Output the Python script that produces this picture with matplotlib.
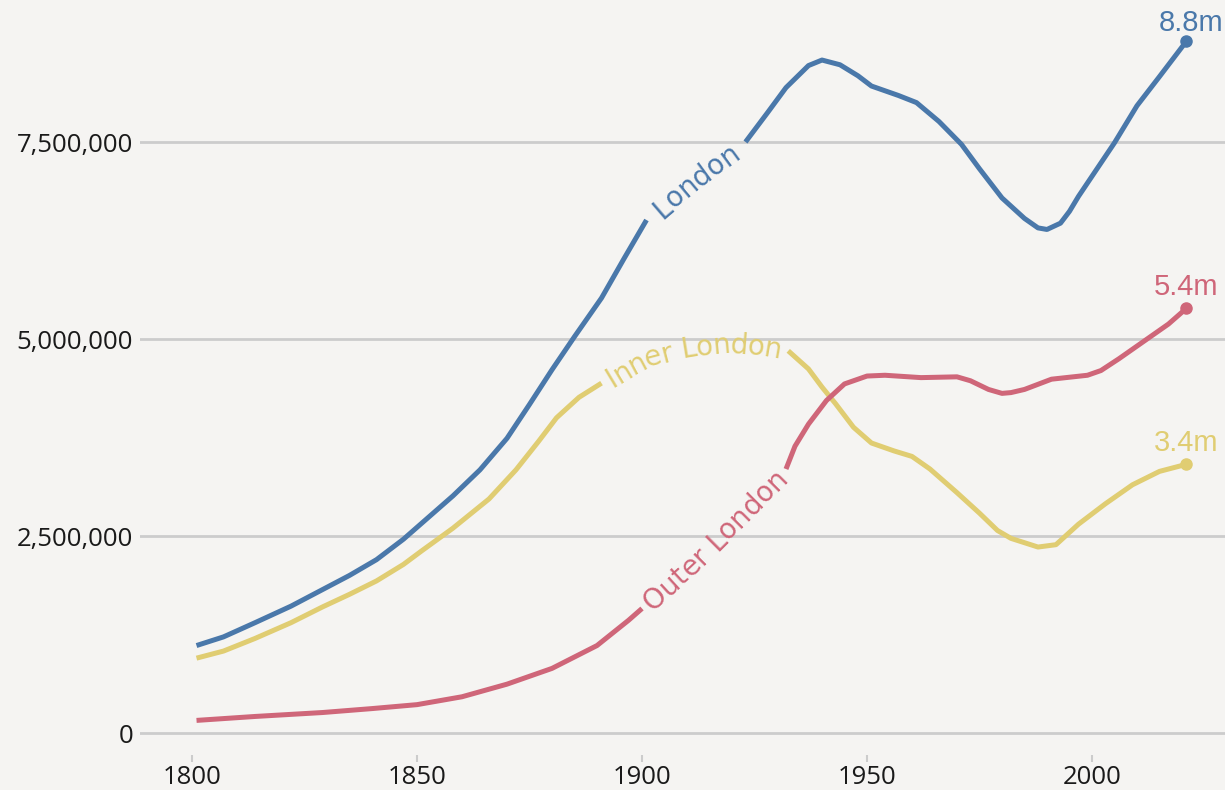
import numpy as np
import matplotlib.pyplot as plt
from matplotlib.ticker import FuncFormatter
from matplotlib.font_manager import FontProperties, findfont, get_font

# population in millions
london_years = [1801, 1807, 1814, 1822, 1829, 1835, 1841, 1847, 1851, 1858, 1864, 1870,
                1875, 1880, 1885, 1891, 1896, 1901, 1911, 1923, 1928, 1932, 1937, 1940,
                1944, 1948, 1951, 1957, 1961, 1966, 1971, 1975, 1980, 1985, 1988, 1990,
                1993, 1995, 1997, 2005, 2010, 2015, 2021]
london_pop = [1.11, 1.22, 1.40, 1.61, 1.82, 2.00, 2.20, 2.46, 2.66, 3.01, 3.34, 3.74,
              4.17, 4.61, 5.03, 5.52, 6.02, 6.51, 7.00, 7.50, 7.88, 8.19, 8.47, 8.54,
              8.48, 8.34, 8.21, 8.09, 8.00, 7.76, 7.47, 7.16, 6.79, 6.53, 6.41, 6.39,
              6.47, 6.62, 6.81, 7.49, 7.96, 8.33, 8.78]

inner_years = [1801, 1807, 1814, 1822, 1829, 1835, 1841, 1847, 1851, 1858, 1866, 1872,
               1877, 1881, 1886, 1891, 1900, 1910, 1920, 1928, 1932.5, 1937, 1940, 1943,
               1947, 1951, 1956, 1960, 1964, 1970, 1975, 1979, 1982, 1988, 1992, 1997,
               2003, 2009, 2015, 2021]
inner_pop = [0.95, 1.04, 1.20, 1.40, 1.60, 1.76, 1.93, 2.14, 2.31, 2.60, 2.97, 3.34,
             3.70, 4.00, 4.26, 4.44, 4.75, 4.90, 4.95, 4.90, 4.85, 4.62, 4.39, 4.18,
             3.88, 3.68, 3.58, 3.51, 3.35, 3.05, 2.79, 2.57, 2.47, 2.36, 2.39, 2.65,
             2.91, 3.15, 3.32, 3.41]

outer_years = [1801, 1814, 1829, 1840, 1850, 1860, 1870, 1880, 1890, 1897, 1900, 1911,
               1921, 1932, 1934, 1937, 1941, 1945, 1950, 1954, 1962, 1970, 1973, 1977,
               1980, 1982, 1985, 1991, 1999, 2002, 2006, 2012, 2017, 2021]
outer_pop = [0.16, 0.21, 0.26, 0.31, 0.36, 0.46, 0.62, 0.82, 1.11, 1.43, 1.58, 2.15,
             2.72, 3.35, 3.64, 3.92, 4.22, 4.43, 4.53, 4.54, 4.51, 4.52, 4.47, 4.36,
             4.31, 4.32, 4.36, 4.49, 4.54, 4.60, 4.75, 4.99, 5.19, 5.39]

# the line is broken between these years and the name is written in the gap
london_gap = (1901, 1923)
inner_gap = (1891, 1932.5)
outer_gap = (1900, 1932)

x_ticks = [1800, 1850, 1900, 1950, 2000]
y_ticks = [0, 2500000, 5000000, 7500000]

BG = "#f5f4f2"
BLUE = "#4a78aa"
RED = "#cf6679"
YELLOW = "#e0cd72"

fig = plt.figure(figsize=(12.25, 7.9), dpi=100, facecolor=BG)
ax = fig.add_axes([140 / 1225, 35 / 790, 1085 / 1225, 755 / 790], facecolor=BG)
ax.set_xlim(1788.44, 2029.56)
ax.set_ylim(-0.279e6, 9.302e6)

for s in ax.spines.values():
    s.set_visible(False)
ax.set_xticks(x_ticks)
ax.set_yticks(y_ticks)
ax.yaxis.set_major_formatter(FuncFormatter(lambda v, p: f"{int(v):,}"))
ax.grid(axis="y", color="#cccccc", lw=2)
ax.set_axisbelow(True)
ax.tick_params(axis="y", length=0, pad=5, labelsize=18.5, labelcolor="#1a1a1a")
ax.tick_params(axis="x", length=5, width=1.5, color="#cccccc", pad=2,
               labelsize=18.5, labelcolor="#1a1a1a")
for lab in ax.get_xticklabels() + ax.get_yticklabels():
    lab.set_family("Open Sans")


def text_on_path(xs, ys, text, color, size=20, family="DejaVu Sans"):
    # write text letter by letter along the hidden part of the line
    prop = FontProperties(family=family, size=size)
    font = get_font(findfont(prop))
    font.set_size(size, fig.dpi)
    adv = [font.load_char(ord(c)).linearHoriAdvance / 65536 for c in text]
    pts = ax.transData.transform(np.column_stack([xs, ys]))
    cum = np.concatenate([[0], np.cumsum(np.hypot(*np.diff(pts, axis=0).T))])

    def at(s):
        return np.array([np.interp(s, cum, pts[:, 0]), np.interp(s, cum, pts[:, 1])])

    start = (cum[-1] - sum(adv)) / 2
    d = 0.35 * size * fig.dpi / 72
    pos = start
    for c, w in zip(text, adv):
        mid = pos + w / 2
        pos += w
        if c == " ":
            continue
        v = at(mid + 10) - at(mid - 10)
        th = np.arctan2(v[1], v[0])
        base = at(mid) + d * np.array([np.sin(th), -np.cos(th)])
        x, y = ax.transData.inverted().transform(base)
        ax.text(x, y, c, rotation=np.degrees(th), rotation_mode="anchor",
                ha="center", va="baseline", color=color, fontsize=size, family=family)


series = [
    (london_years, london_pop, london_gap, "London", BLUE, (3, 3)),
    (inner_years, inner_pop, inner_gap, "Inner London", YELLOW, (0, 5.5)),
    (outer_years, outer_pop, outer_gap, "Outer London", RED, (0, 5.5)),
]

for years, pop, gap, name, col, off in series:
    yrs = np.array(years, dtype=float)
    vals = np.array(pop) * 1e6
    before = yrs <= gap[0]
    after = yrs >= gap[1]
    inside = (yrs >= gap[0]) & (yrs <= gap[1])
    for m in (before, after):
        ax.plot(yrs[m], vals[m], color=col, lw=3.6, solid_capstyle="butt",
                solid_joinstyle="round")
    text_on_path(yrs[inside], vals[inside], name, col)
    ax.plot(yrs[-1], vals[-1], "o", ms=8, color=col, clip_on=False)
    ax.annotate(f"{pop[-1]:.1f}m", (yrs[-1], vals[-1]), xytext=off,
                textcoords="offset points", ha="center", va="bottom",
                fontsize=21, family="Liberation Sans", color=col,
                annotation_clip=False)

fig.savefig("out.png", dpi=100, facecolor=BG)
